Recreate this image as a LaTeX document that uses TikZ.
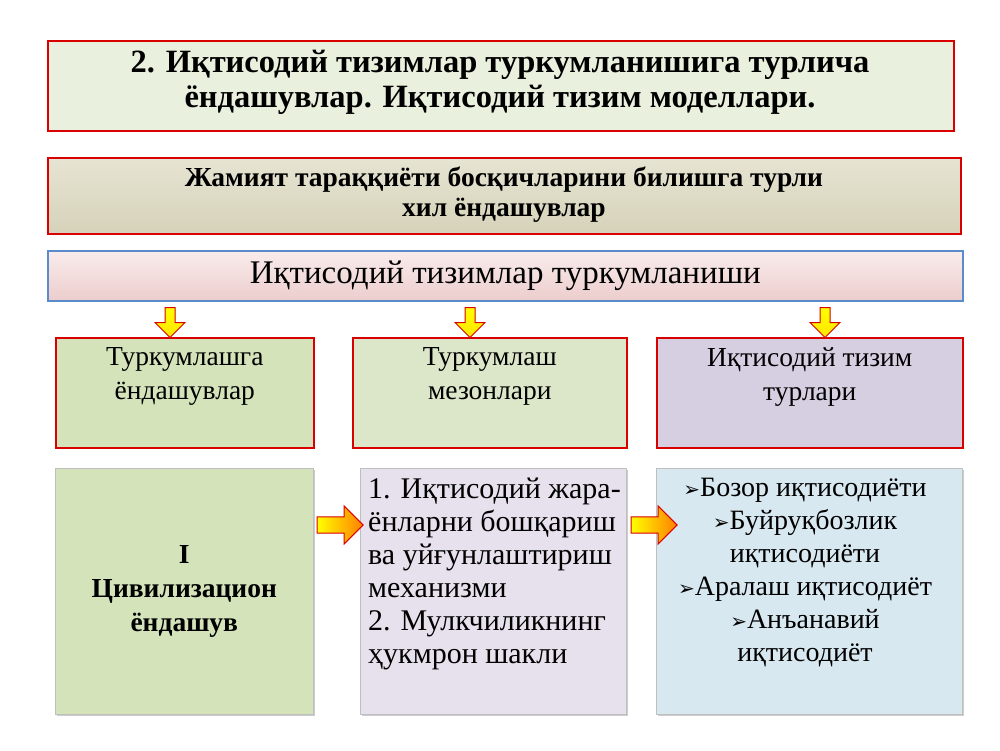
\documentclass[tikz,border=0pt]{standalone}
\usepackage{fontspec}
\setmainfont{Liberation Serif}
\newfontfamily\dv{DejaVu Sans}
\usetikzlibrary{shapes.arrows,shadows}
\begin{document}
\begin{tikzpicture}[x=1pt,y=-1pt,
 box/.style={draw=red!85!black,line width=1.6pt,minimum width=#1,inner sep=0pt,anchor=north west},
 low/.style={draw=gray!50,line width=0.6pt,inner sep=0pt,anchor=north west,drop shadow={shadow xshift=2pt,shadow yshift=-2pt,opacity=.4}},
 txt/.style={align=center,inner sep=0pt,anchor=north},
 darr/.style={single arrow,draw=red!85!black,line width=1pt,top color=yellow,bottom color=yellow!80!orange,minimum height=30pt,minimum width=30pt,single arrow head extend=5pt,inner sep=2pt,shape border rotate=270},
 rarr/.style={single arrow,draw=red!85!black,line width=1pt,left color=yellow,right color=orange,minimum height=46pt,minimum width=38pt,single arrow head extend=6pt,inner sep=4pt}]
\useasboundingbox (0,0) rectangle (1000,750);
\fill[white] (0,0) rectangle (1000,750);
\node[box=906pt,minimum height=90pt,fill={rgb,255:red,234;green,240;blue,222}] (t) at (47,40) {};
\node[txt,font=\bfseries\fontsize{32.5}{35}\selectfont] (tt) at (500,50) {2. Иқтисодий тизимлар туркумланишига турлича\\ёндашувлар. Иқтисодий тизим моделлари.};
\node[box=913pt,minimum height=76pt,top color={rgb,255:red,230;green,228;blue,210},bottom color={rgb,255:red,214;green,210;blue,186}] (s) at (47,157) {};
\node[txt,font=\bfseries\fontsize{27.5}{30}\selectfont] (st) at (504,167) {Жамият тараққиёти босқичларини билишга турли\\хил ёндашувлар};
\node[draw={rgb,255:red,90;green,140;blue,205},line width=1.6pt,minimum width=915pt,minimum height=50pt,anchor=north west,top color={rgb,255:red,250;green,236;blue,236},bottom color={rgb,255:red,236;green,205;blue,205},font=\fontsize{33}{34}\selectfont] (k) at (47,250) {Иқтисодий тизимлар туркумланиши};
\node[box=258pt,minimum height=110pt,fill={rgb,255:red,212;green,227;blue,186}] (a) at (55,337) {};
\node[box=274pt,minimum height=110pt,fill={rgb,255:red,220;green,230;blue,200}] (b) at (352,337) {};
\node[box=306pt,minimum height=110pt,fill={rgb,255:red,214;green,207;blue,226}] (c) at (656,337) {};
\node[txt,font=\fontsize{27.5}{34}\selectfont] (at) at (a.north) [yshift=-10pt] {Туркумлашга\\ёндашувлар};
\node[txt,font=\fontsize{27.5}{34}\selectfont] (bt) at (b.north) [yshift=-10pt] {Туркумлаш\\мезонлари};
\node[txt,font=\fontsize{27.5}{34}\selectfont] (ct) at (c.north) [yshift=-10pt] {Иқтисодий тизим\\турлари};
\node[darr] (d1) at (170,320) {};
\node[darr] (d2) at (470,320) {};
\node[darr] (d3) at (825,320) {};
\node[low,minimum width=258pt,minimum height=246pt,fill={rgb,255:red,212;green,227;blue,186}] (e) at (55,468) {};
\node[txt,anchor=center,font=\bfseries\fontsize{27.5}{34}\selectfont] (et) at (e.center) {I\\Цивилизацион\\ёндашув};
\node[low,minimum width=266pt,minimum height=246pt,fill={rgb,255:red,230;green,225;blue,236}] (f) at (360,468) {};
\node[txt,anchor=north west,align=left,font=\fontsize{30}{33}\selectfont] (ft) at (368,478)
 {1. Иқтисодий жара-\\ёнларни бошқариш\\ва уйғунлаштириш\\механизми\\2. Мулкчиликнинг\\ҳукмрон шакли};
\node[low,minimum width=306pt,minimum height=246pt,fill={rgb,255:red,216;green,232;blue,240}] (g) at (656,468) {};
\node[txt,font=\fontsize{28}{33}\selectfont] (gt) at (805,478)
 {{\dv\fontsize{20}{20}\selectfont ➢}Бозор иқтисодиёти\\{\dv\fontsize{20}{20}\selectfont ➢}Буйруқбозлик\\иқтисодиёти\\{\dv\fontsize{20}{20}\selectfont ➢}Аралаш иқтисодиёт\\{\dv\fontsize{20}{20}\selectfont ➢}Анъанавий\\иқтисодиёт};
\node[rarr] (r1) at (336,525) {};
\node[rarr] (r2) at (650,525) {};
\end{tikzpicture}
\end{document}
